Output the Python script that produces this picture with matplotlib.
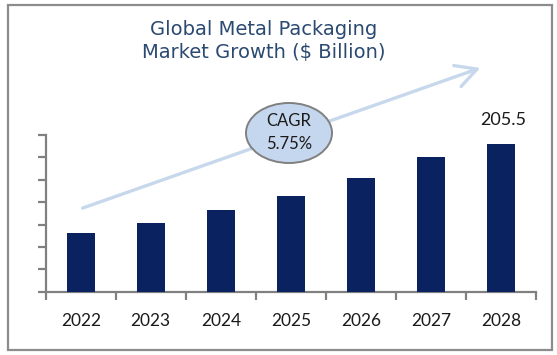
import matplotlib
matplotlib.use("Agg")
import matplotlib.pyplot as plt
from matplotlib.patches import Ellipse, Rectangle, FancyArrowPatch
import numpy as np

# Data
years = ["2022", "2023", "2024", "2025", "2026", "2027", "2028"]
values = [81, 95, 113, 133, 158, 188, 205.5]
last_label = "205.5"
title = "Global Metal Packaging\nMarket Growth ($ Billion)"
cagr_text = "CAGR\n5.75%"

W, H = 557, 355
fig = plt.figure(figsize=(W / 100, H / 100), dpi=100)
fig.patch.set_facecolor("white")

def fx(px):
    return px / W

def fy(py):
    return 1 - py / H

ax = fig.add_axes([fx(45.7), fy(291.7), fx(536) - fx(45.7), fy(135) - fy(291.7)])
x = np.arange(len(years))
ax.bar(x, values, width=0.40, color="#0B2260", zorder=3)
ax.set_xlim(-0.5, len(years) - 0.5)
ymax = 218
ax.set_ylim(0, ymax)
ax.set_yticks(np.linspace(0, ymax, 8))
ax.set_yticklabels([])
ax.set_xticks(x)
ax.set_xticklabels(years, fontsize=12.5, family="Lato", color="#1a1a1a")
ax.set_xticks(np.arange(-0.5, len(years)), minor=True)
ax.tick_params(axis="x", which="major", length=0, pad=15)
ax.tick_params(axis="x", which="minor", length=6, width=1.6, color="#808080", direction="out")
ax.tick_params(axis="y", which="major", length=6, width=1.6, color="#808080", direction="out")
for s in ["top", "right"]:
    ax.spines[s].set_visible(False)
for s in ["left", "bottom"]:
    ax.spines[s].set_color("#808080")
    ax.spines[s].set_linewidth(1.6)
ax.patch.set_alpha(0)

ax.annotate(last_label, (x[-1], values[-1]), xytext=(1.5, 17.5), textcoords="offset points",
            ha="center", va="center", fontsize=13, family="Lato", color="#1a1a1a")

# Title
fig.text(fx(264), fy(41), title, ha="center", va="center", fontsize=14,
         color="#2B4A72", linespacing=1.3, family="DejaVu Sans")

# Growth arrow
fig.add_artist(FancyArrowPatch(
    (fx(80), fy(209)), (fx(483), fy(67)), transform=fig.transFigure,
    arrowstyle="->,head_length=7.5,head_width=4", color="#C8D8EC", lw=2.4,
    mutation_scale=2, zorder=2))

# CAGR ellipse
fig.add_artist(Ellipse((fx(289), fy(133)), fx(86), 60 / H, transform=fig.transFigure,
                       facecolor="#C5D7EE", edgecolor="#808080", lw=1.4, zorder=4))
fig.text(fx(289), fy(132.5), cagr_text, ha="center", va="center", fontsize=12,
         family="Lato", color="#1a1a1a", linespacing=1.55, zorder=5)

# Border
fig.add_artist(Rectangle((fx(8), fy(350)), fx(544), 345 / H, transform=fig.transFigure,
                         fill=False, edgecolor="#8C8C8C", lw=1.6, zorder=6))

fig.savefig("out.png", dpi=100, facecolor="white")
